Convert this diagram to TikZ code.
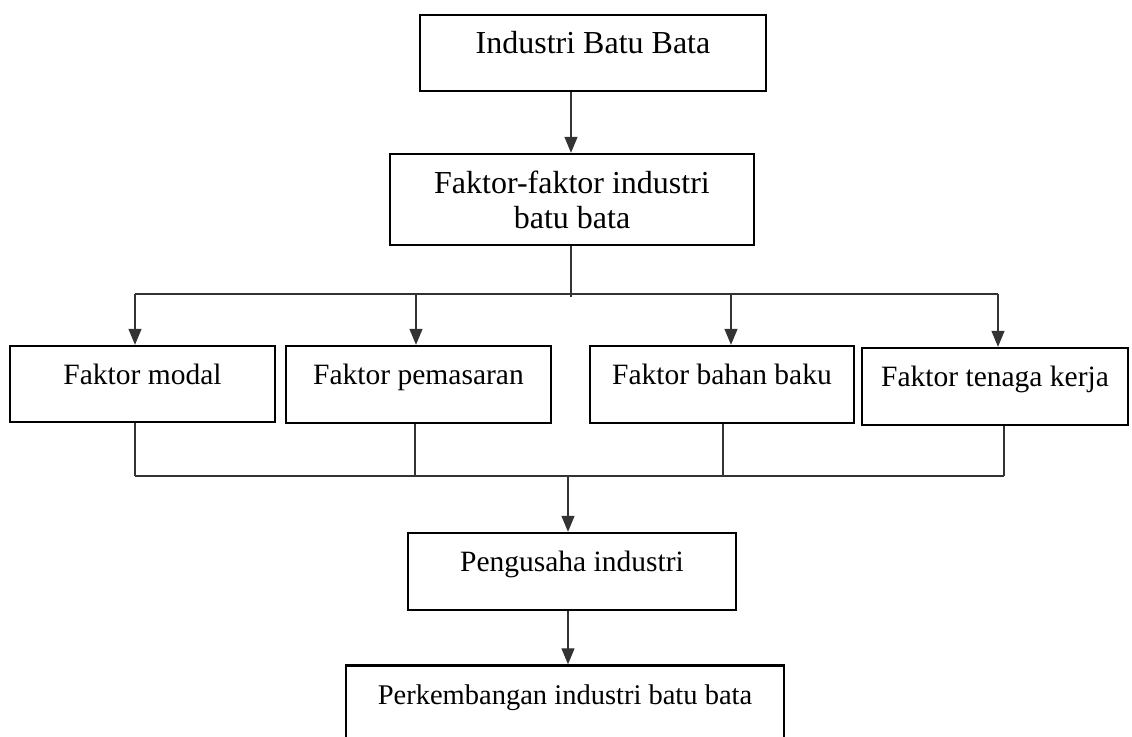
\documentclass[tikz,border=0pt]{standalone}
\usepackage{fontspec}
\setmainfont{Liberation Serif}
\usetikzlibrary{arrows.meta,calc}
\tikzset{
  x=1pt,y=-1pt,
  box/.style={draw=black, line width=2.4pt, inner sep=0pt,
    font=\fontsize{29.5}{35}\selectfont, text height=20pt, text depth=20pt},
  conn/.style={draw=black!80, line width=1.3pt},
  arr/.style={conn, -{Triangle[width=13pt,length=16pt]}},
}
\begin{document}
\begin{tikzpicture}
\useasboundingbox (0,0) rectangle (1132,736);
% top boxes
\node[box, minimum width=346pt, minimum height=76pt, font=\fontsize{32}{35}\selectfont]
  (top) at (593,53) {Industri Batu Bata\hspace{27pt}};
\node[box, align=center, minimum width=364pt, minimum height=91pt, font=\fontsize{32}{35}\selectfont,
  text height=, text depth=]
  (fak) at (572,199.5) {Faktor-faktor industri\\batu bata};
% factor boxes
\node[box, minimum width=265pt, minimum height=76pt] (fm) at (142.5,384) {Faktor modal};
\node[box, minimum width=265pt, minimum height=77pt] (fp) at (418.5,384.5) {Faktor pemasaran};
\node[box, minimum width=264pt, minimum height=77pt] (fb) at (722,384.5) {Faktor bahan baku};
\node[box, minimum width=266pt, minimum height=77pt] (ft) at (995,386.5) {Faktor tenaga kerja};
% bottom boxes
\node[box, minimum width=328pt, minimum height=77pt] (pi) at (572,571.5) {Pengusaha industri};
\node[box, minimum width=438pt, minimum height=77pt, font=\fontsize{28.5}{35}\selectfont]
  (pb) at (565,704) {Perkembangan industri batu bata\hspace{17pt}};
% bus coordinates
\coordinate (j1) at (571,297);
\coordinate (b1) at (135,294);
\coordinate (b2) at (416,294);
\coordinate (b3) at (731,294);
\coordinate (b4) at (998,294);
\coordinate (c1) at (135,476);
\coordinate (c2) at (415,476);
\coordinate (c3) at (723,476);
\coordinate (c4) at (1004,476);
\coordinate (cm) at (568,476);
% connectors
\draw[arr] (top.south -| 571,0) -- (fak.north -| 571,0);
\draw[conn] (fak.south -| j1) -- (j1);
\draw[conn] (b1) -- (b4);
\draw[arr] (b1) -- (b1 |- fm.north);
\draw[arr] (b2) -- (b2 |- fp.north);
\draw[arr] (b3) -- (b3 |- fb.north);
\draw[arr] (b4) -- (b4 |- ft.north);
\draw[conn] (c1 |- fm.south) -- (c1);
\draw[conn] (c2 |- fp.south) -- (c2);
\draw[conn] (c3 |- fb.south) -- (c3);
\draw[conn] (c4 |- ft.south) -- (c4);
\draw[conn] (c1) -- (c4);
\draw[arr] (cm) -- (cm |- pi.north);
\draw[arr] (pi.south -| cm) -- (pb.north -| cm);
\end{tikzpicture}
\end{document}
